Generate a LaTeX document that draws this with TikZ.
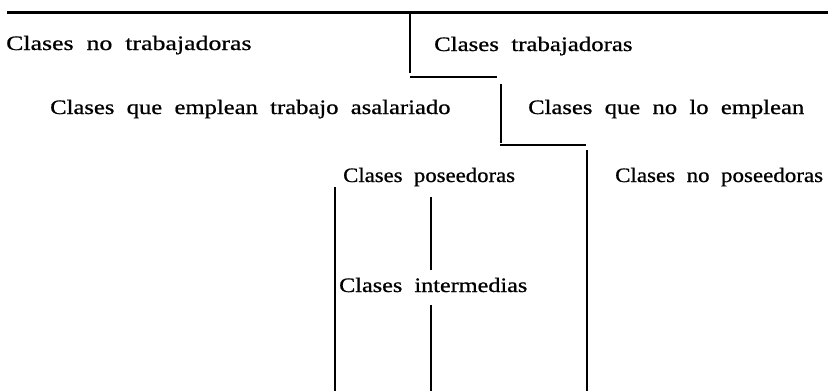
\documentclass[tikz,border=0pt]{standalone}
\usepackage{fontspec}
\setmainfont[WordSpace=2]{Liberation Serif}
\begin{document}
\begin{tikzpicture}[x=1bp,y=-1bp,
  lbl/.style={anchor=base west,inner sep=0pt,
    font=\fontsize{20.5bp}{24bp}\selectfont\addfontfeature{FakeStretch=#1,FakeBold=0.8}},
  rule/.style={line width=1.7bp,black},
  toprule/.style={line width=3bp,black}]
\useasboundingbox (0,0) rectangle (828,391);
% texts
\node[lbl=1.26] (nt)  at (6,50)   {Clases no trabajadoras};
\node[lbl=1.21] (t)   at (434,51) {Clases trabajadoras};
\node[lbl=1.20] (ea)  at (50,114) {Clases que emplean trabajo asalariado};
\node[lbl=1.20] (ne)  at (528,114) {Clases que no lo emplean};
\node[lbl=1.11] (p)   at (343,182) {Clases poseedoras};
\node[lbl=1.12] (np)  at (615,182) {Clases no poseedoras};
\node[lbl=1.18] (im)  at (339,292) {Clases intermedias};
% rules
\draw[toprule] (7,12) -- (828,12);
\draw[rule] (410,13) -- (410,73);
\draw[rule] (410,77) -- (497,77);
\draw[rule] (501,84) -- (501,143);
\draw[rule] (500,145) -- (586,145);
\draw[rule] (587,150) -- (587,391);
\draw[rule] (335,187) -- (335,391);
\draw[rule] (431,197) -- (431,270);
\draw[rule] (431,305) -- (431,391);
\end{tikzpicture}
\end{document}
